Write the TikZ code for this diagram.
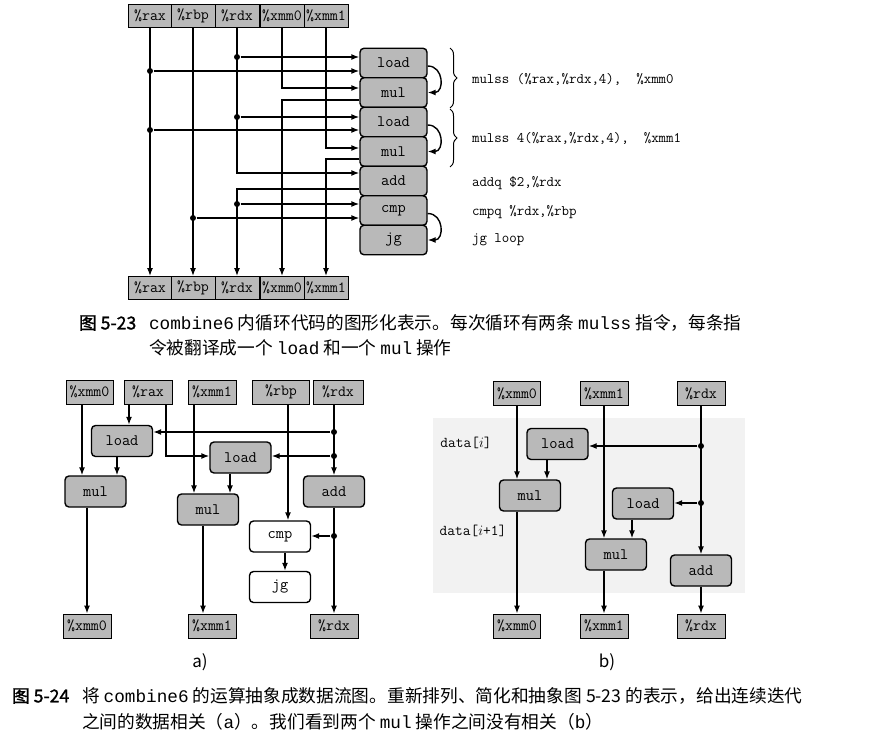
\documentclass[tikz,border=0pt]{standalone}
\usepackage{fontspec}
\newfontfamily\cjk{Noto Sans CJK SC}
\newfontfamily\cjkb[FakeBold=1.5]{Noto Sans CJK SC}
\newfontfamily\capmono{Liberation Mono}
\usetikzlibrary{arrows.meta,decorations.pathreplacing}

\begin{document}
\begin{tikzpicture}[x=1pt, y=-1pt, line width=1.4pt, >={Latex[length=8pt,width=6pt]},
    reg/.style = {draw, line width=0.9pt, fill=gray!55, inner sep=0pt, minimum height=23pt, font=\fontsize{15.5}{15.5}\ttfamily},
    op/.style = {draw, rounded corners=4pt, fill=gray!55, inner sep=0pt, minimum width=61pt, minimum height=31pt, font=\fontsize{16}{16}\ttfamily},
    opt/.style = {op, minimum width=67pt, minimum height=29.5pt},
    opw/.style = {op, fill=white},
    dot/.style = {circle, fill, inner sep=0pt, minimum size=6pt},
    code/.style = {anchor=west, font=\fontsize{14.5}{15}\ttfamily},
    captxt/.style = {anchor=west, font=\fontsize{17.7}{20}\cjk}]
    \useasboundingbox (0,0) rectangle (890,744);

    % figura 5-23: registri
    \node[reg, minimum width=44pt] (tax) at (150,15.5) {\%rax};
    \node[reg, minimum width=44pt] (tbp) at (193,15.5) {\%rbp};
    \node[reg, minimum width=44pt] (tdx) at (237,15.5) {\%rdx};
    \node[reg, minimum width=44pt] (tx0) at (282,15.5) {\%xmm0};
    \node[reg, minimum width=44pt] (tx1) at (326,15.5) {\%xmm1};
    \node[reg, minimum width=44pt] (bax) at (150,288) {\%rax};
    \node[reg, minimum width=44pt] (bbp) at (193,288) {\%rbp};
    \node[reg, minimum width=44pt] (bdx) at (237,288) {\%rdx};
    \node[reg, minimum width=44pt] (bx0) at (282,288) {\%xmm0};
    \node[reg, minimum width=44pt] (bx1) at (326,288) {\%xmm1};

    % operazioni
    \node[opt] (ld1) at (393.5,63) {load};
    \node[opt] (ml1) at (393.5,92.5) {mul};
    \node[opt] (ld2) at (393.5,122) {load};
    \node[opt] (ml2) at (393.5,151.5) {mul};
    \node[opt] (add) at (393.5,181) {add};
    \node[opt] (cmp) at (393.5,210.5) {cmp};
    \node[opt] (jg) at (393.5,240) {jg};

    \node[dot] (r1) at (237,57) {};
    \node[dot] (a1) at (150,71) {};
    \node[dot] (r2) at (237,117) {};
    \node[dot] (a2) at (150,130) {};
    \node[dot] (r3) at (237,204) {};
    \node[dot] (p1) at (193,218) {};

    \draw[->] (tax) -- (bax);
    \draw[->] (tbp) -- (bbp);
    \draw[->] (tdx) |- ([yshift=8pt]add.west);
    \draw[->] (tx0) |- ([yshift=4.5pt]ml1.west);
    \draw[->] (tx1) |- ([yshift=3.5pt]ml2.west);
    \draw[->] ([yshift=-7.5pt]ml1.west) -| (bx0);
    \draw[->] ([yshift=-7.5pt]ml2.west) -| (bx1);
    \draw[->] ([yshift=-8pt]add.west) -| (bdx);
    \draw[->] (r1) -- (ld1.west |- r1);
    \draw[->] (a1) -- (ld1.west |- a1);
    \draw[->] (r2) -- (ld2.west |- r2);
    \draw[->] (a2) -- (ld2.west |- a2);
    \draw[->] (r3) -- (cmp.west |- r3);
    \draw[->] (p1) -- (cmp.west |- p1);

    \draw[->] ([yshift=-3pt]ld1.east) to[out=0, in=0, looseness=1.6] (ml1.east);
    \draw[->] ([yshift=-3pt]ld2.east) to[out=0, in=0, looseness=1.6] (ml2.east);
    \draw[->] ([yshift=-3pt]cmp.east) to[out=0, in=0, looseness=1.6] (jg.east);

    \draw[decorate, decoration={brace, amplitude=7pt}, line width=1pt] (450,48) -- (450,108);
    \draw[decorate, decoration={brace, amplitude=7pt}, line width=1pt] (450,109) -- (450,167);
    \node[code] (i1) at (468,79) {mulss (\%rax,\%rdx,4), \ \%xmm0};
    \node[code] (i2) at (468,138) {mulss 4(\%rax,\%rdx,4), \ \%xmm1};
    \node[code] (i3) at (468,183) {addq \$2,\%rdx};
    \node[code] (i4) at (468,212) {cmpq \%rdx,\%rbp};
    \node[code] (i5) at (468,240) {jg loop};

    \node[captxt, font=\fontsize{17.7}{20}\cjkb] (f1) at (75,323) {图 5-23};
    \node[captxt] (t1) at (145,323) {{\capmono combine6} 内循环代码的图形化表示。每次循环有两条 {\capmono mulss} 指令，每条指};
    \node[captxt] (t2) at (145,348) {令被翻译成一个 {\capmono load} 和一个 {\capmono mul} 操作};

    % figura 5-24 a)
    \node[reg, minimum width=47pt, minimum height=24pt] (ax0) at (89.5,392) {\%xmm0};
    \node[reg, minimum width=48pt, minimum height=24pt] (aax) at (148,392) {\%rax};
    \node[reg, minimum width=48pt, minimum height=24pt] (ax1) at (212,392) {\%xmm1};
    \node[reg, minimum width=57pt, minimum height=24pt] (abp) at (281,392) {\%rbp};
    \node[reg, minimum width=50pt, minimum height=24pt] (adx) at (338,392) {\%rdx};
    \node[op] (al1) at (122,441) {load};
    \node[op] (am1) at (95.5,491.5) {mul};
    \node[op] (al2) at (240.5,457.5) {load};
    \node[op] (am2) at (208,509.5) {mul};
    \node[op] (aad) at (334,491.5) {add};
    \node[opw] (acp) at (280,536.5) {cmp};
    \node[opw] (ajg) at (280,587) {jg};
    \node[reg, minimum width=48pt, minimum height=24pt] (ex0) at (87,626) {\%xmm0};
    \node[reg, minimum width=48pt, minimum height=24pt] (ex1) at (212,626) {\%xmm1};
    \node[reg, minimum width=48pt, minimum height=24pt] (edx) at (334,626) {\%rdx};

    \node[dot] (ad1) at (334,432) {};
    \node[dot] (ad2) at (334,456) {};
    \node[dot] (ad3) at (334,536) {};

    \draw[->] ([xshift=-7.5pt]ax0.south) -- ([xshift=-13.5pt]am1.north);
    \draw[->] ([xshift=-19pt]aax.south) -- ([xshift=7pt]al1.north);
    \draw[->] ([xshift=18pt]aax.south) |- ([yshift=1.5pt]al2.west);
    \draw[->] ([xshift=-5pt]al1.south) -- ([xshift=21.5pt]am1.north);
    \draw[->] ([xshift=-18pt]ax1.south) -- ([xshift=-14pt]am2.north);
    \draw[->] ([xshift=-10.5pt]al2.south) -- ([xshift=22pt]am2.north);
    \draw[->] ([xshift=7pt]abp.south) -- ([xshift=8pt]acp.north);
    \draw[->] ([xshift=-4pt]adx.south) -- (aad.north);
    \draw[->] (ad1) -- (al1.east |- ad1);
    \draw[->] (ad2) -- (al2.east |- ad2);
    \draw[->] ([xshift=-8.5pt]am1.south) -- (ex0.north);
    \draw[->] ([xshift=-5pt]am2.south) -- ([xshift=-9pt]ex1.north);
    \draw[->] (aad) -- (edx);
    \draw[->] (ad3) -- (acp.east |- ad3);
    \draw[->] ([xshift=5pt]acp.south) -- ([xshift=5pt]ajg.north);

    \node[font=\fontsize{17}{17}\cjk] (la) at (200,662) {a)};

    % figura 5-24 b)
    \fill[gray!10] (433,418) rectangle (745,593);
    \node[reg, minimum width=47pt, minimum height=24pt] (x0b) at (517,393.5) {\%xmm0};
    \node[reg, minimum width=48pt, minimum height=24pt] (x1b) at (604,393.5) {\%xmm1};
    \node[reg, minimum width=48pt, minimum height=24pt] (dxb) at (701,393.5) {\%rdx};
    \node[op] (l1b) at (557.5,444) {load};
    \node[op] (m1b) at (530,495.5) {mul};
    \node[op] (l2b) at (643,503.5) {load};
    \node[op] (m2b) at (616,554.5) {mul};
    \node[op] (adb) at (701,570.5) {add};
    \node[reg, minimum width=47pt, minimum height=24pt] (x0e) at (517,626) {\%xmm0};
    \node[reg, minimum width=48pt, minimum height=24pt] (x1e) at (604,626) {\%xmm1};
    \node[reg, minimum width=48pt, minimum height=24pt] (dxe) at (701,626) {\%rdx};

    \node[dot] (bd1) at (701,446) {};
    \node[dot] (bd2) at (701,503) {};

    \draw[->] (x0b) -- ([xshift=-13pt]m1b.north);
    \draw[->] ([xshift=-10.5pt]l1b.south) -- ([xshift=17pt]m1b.north);
    \draw[->] (x1b) -- ([xshift=-12pt]m2b.north);
    \draw[->] ([xshift=-11pt]l2b.south) -- ([xshift=16pt]m2b.north);
    \draw[->] (dxb) -- (adb);
    \draw[->] (bd1) -- (l1b.east |- bd1);
    \draw[->] (bd2) -- (l2b.east |- bd2);
    \draw[->] ([xshift=-13pt]m1b.south) -- (x0e);
    \draw[->] ([xshift=-12pt]m2b.south) -- (x1e);
    \draw[->] (adb) -- (dxe);

    \node[font=\fontsize{15}{15}\ttfamily] (di) at (466,443) {data[$i$]};
    \node[font=\fontsize{15}{15}\ttfamily] (di1) at (473,531) {data[$i$+1]};
    \node[font=\fontsize{17}{17}\cjk] (lb) at (607,662) {b)};

    \node[captxt, font=\fontsize{17.7}{20}\cjkb] (f2) at (8,696) {图 5-24};
    \node[captxt] (t3) at (78,696) {将 {\capmono combine6} 的运算抽象成数据流图。重新排列、简化和抽象图 5-23 的表示，给出连续迭代};
    \node[captxt] (t4) at (78,722) {之间的数据相关（{\capmono a}）。我们看到两个 {\capmono mul} 操作之间没有相关（{\capmono b}）};

\end{tikzpicture}
\end{document}
